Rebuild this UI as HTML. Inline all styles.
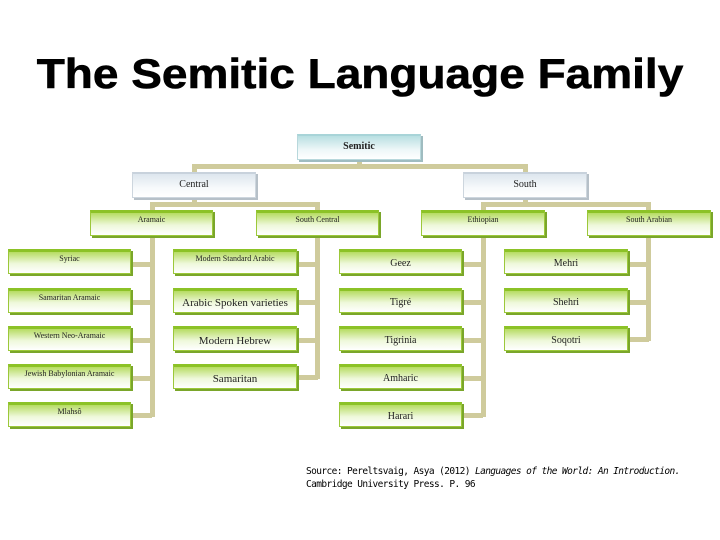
<!DOCTYPE html>
<html><head><meta charset="utf-8"><style>
body{margin:0;width:720px;height:540px;background:#fff;position:relative;overflow:hidden;font-family:"Liberation Serif",serif;}
h1{position:absolute;left:0;top:50px;width:720px;margin:0;text-align:center;font:bold 42px "Liberation Sans",sans-serif;color:#000;transform:scaleX(1.095);transform-origin:360px 0;-webkit-text-stroke:0.6px #000;}
.l{position:absolute;background:#cfcb9c;}
.b{position:absolute;box-sizing:border-box;border:1px solid #9cc83a;border-top:3px solid #8cc227;background:linear-gradient(#b6dc62,#eef8da 55%,#fff);box-shadow:2px 2px 0 #7aa62a;text-align:center;color:#222;font-size:10px;line-height:24px;}
.s{font-size:8px;line-height:14px;}
.c{border:1px solid #b8d8dc;border-top:2px solid #a8d4d8;background:linear-gradient(#b8dfe2,#eef7f8 60%,#fff);box-shadow:2px 2px 0 #9fbcc0;}
.g{border:1px solid #cdd6de;border-top:2px solid #c8d2dc;background:linear-gradient(#dde6ee,#f6f9fb 60%,#fff);box-shadow:2px 2px 0 #b6c0c8;}
.src{position:absolute;left:306px;top:465px;font:9.5px "DejaVu Sans Mono","Liberation Mono",monospace;line-height:13px;color:#000;letter-spacing:-0.6px;}
</style></head><body>
<h1>The Semitic Language Family</h1>
<div class="l" style="left:357px;top:158px;width:5px;height:10px"></div>
<div class="l" style="left:192px;top:164px;width:335px;height:5px"></div>
<div class="l" style="left:192px;top:164px;width:5px;height:10px"></div>
<div class="l" style="left:523px;top:164px;width:5px;height:10px"></div>
<div class="l" style="left:192px;top:196px;width:5px;height:10px"></div>
<div class="l" style="left:150px;top:202px;width:170px;height:5px"></div>
<div class="l" style="left:150px;top:202px;width:5px;height:10px"></div>
<div class="l" style="left:315px;top:202px;width:5px;height:10px"></div>
<div class="l" style="left:523px;top:196px;width:5px;height:10px"></div>
<div class="l" style="left:481px;top:202px;width:170px;height:5px"></div>
<div class="l" style="left:481px;top:202px;width:5px;height:10px"></div>
<div class="l" style="left:646px;top:202px;width:5px;height:10px"></div>
<div class="l" style="left:150px;top:236px;width:5px;height:181px"></div>
<div class="l" style="left:315px;top:236px;width:5px;height:143px"></div>
<div class="l" style="left:481px;top:236px;width:5px;height:181px"></div>
<div class="l" style="left:646px;top:236px;width:5px;height:105px"></div>
<div class="l" style="left:130px;top:262px;width:22px;height:5px"></div>
<div class="l" style="left:130px;top:300px;width:22px;height:5px"></div>
<div class="l" style="left:130px;top:338px;width:22px;height:5px"></div>
<div class="l" style="left:130px;top:376px;width:22px;height:5px"></div>
<div class="l" style="left:130px;top:413px;width:22px;height:5px"></div>
<div class="l" style="left:296px;top:262px;width:22px;height:5px"></div>
<div class="l" style="left:296px;top:300px;width:22px;height:5px"></div>
<div class="l" style="left:296px;top:338px;width:22px;height:5px"></div>
<div class="l" style="left:296px;top:375px;width:22px;height:5px"></div>
<div class="l" style="left:461px;top:262px;width:22px;height:5px"></div>
<div class="l" style="left:461px;top:300px;width:22px;height:5px"></div>
<div class="l" style="left:461px;top:338px;width:22px;height:5px"></div>
<div class="l" style="left:461px;top:376px;width:22px;height:5px"></div>
<div class="l" style="left:461px;top:413px;width:22px;height:5px"></div>
<div class="l" style="left:627px;top:262px;width:22px;height:5px"></div>
<div class="l" style="left:627px;top:300px;width:22px;height:5px"></div>
<div class="l" style="left:627px;top:337px;width:22px;height:5px"></div>
<div class="b c" style="left:297px;top:134px;width:124px;height:26px;font-weight:bold;font-size:10px;line-height:22px;">Semitic</div>
<div class="b g" style="left:132px;top:172px;width:124px;height:26px;line-height:22px;">Central</div>
<div class="b g" style="left:463px;top:172px;width:124px;height:26px;line-height:22px;">South</div>
<div class="b s" style="left:90px;top:210px;width:123px;height:26px;">Aramaic</div>
<div class="b s" style="left:256px;top:210px;width:123px;height:26px;">South Central</div>
<div class="b s" style="left:421px;top:210px;width:124px;height:26px;">Ethiopian</div>
<div class="b s" style="left:587px;top:210px;width:124px;height:26px;">South Arabian</div>
<div class="b s" style="left:8px;top:249px;width:123px;height:25px;">Syriac</div>
<div class="b s" style="left:8px;top:288px;width:123px;height:25px;">Samaritan Aramaic</div>
<div class="b s" style="left:8px;top:326px;width:123px;height:25px;">Western Neo-Aramaic</div>
<div class="b s" style="left:8px;top:364px;width:123px;height:25px;">Jewish Babylonian Aramaic</div>
<div class="b s" style="left:8px;top:402px;width:123px;height:25px;">Mlahsô</div>
<div class="b s" style="left:173px;top:249px;width:124px;height:25px;">Modern Standard Arabic</div>
<div class="b" style="left:173px;top:288px;width:124px;height:25px;font-size:11px;">Arabic Spoken varieties</div>
<div class="b" style="left:173px;top:326px;width:124px;height:25px;font-size:11px;">Modern Hebrew</div>
<div class="b" style="left:173px;top:364px;width:124px;height:25px;font-size:11px;">Samaritan</div>
<div class="b" style="left:339px;top:249px;width:123px;height:25px;">Geez</div>
<div class="b" style="left:339px;top:288px;width:123px;height:25px;">Tigré</div>
<div class="b" style="left:339px;top:326px;width:123px;height:25px;">Tigrinia</div>
<div class="b" style="left:339px;top:364px;width:123px;height:25px;">Amharic</div>
<div class="b" style="left:339px;top:402px;width:123px;height:25px;">Harari</div>
<div class="b" style="left:504px;top:249px;width:124px;height:25px;">Mehri</div>
<div class="b" style="left:504px;top:288px;width:124px;height:25px;">Shehri</div>
<div class="b" style="left:504px;top:326px;width:124px;height:25px;">Soqotri</div>
<div class="src">Source: Pereltsvaig, Asya (2012) <i>Languages of the World: An Introduction.</i><br>Cambridge University Press. P. 96</div>
</body></html>
